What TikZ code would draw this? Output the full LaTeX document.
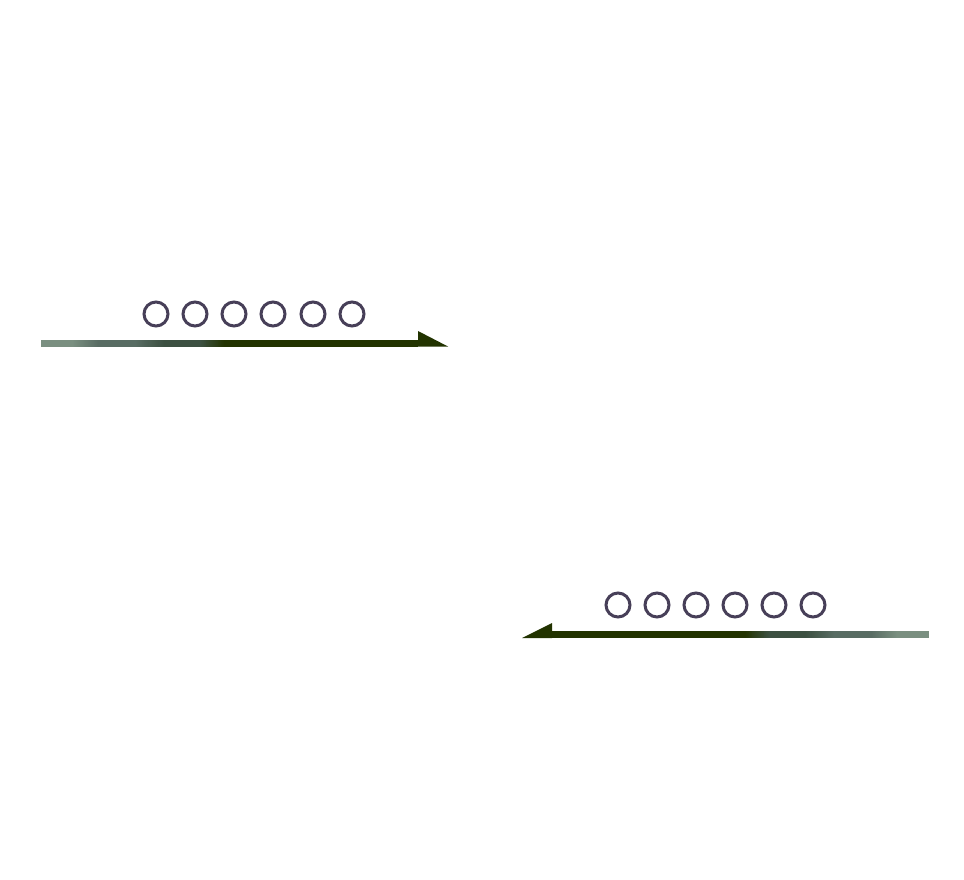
\documentclass[tikz,border=0pt]{standalone}
\definecolor{circcol}{RGB}{71,63,88}
\definecolor{darkg}{RGB}{34,51,0}
\definecolor{lightg}{RGB}{122,143,128}
\definecolor{midga}{RGB}{88,108,99}
\definecolor{midgb}{RGB}{60,80,65}
\begin{document}
\begin{tikzpicture}[x=1pt,y=-1pt,
  dot/.style={circle,draw=circcol,line width=3pt,minimum size=24pt,inner sep=0pt},
  shaft/.style={fill=darkg}]
\useasboundingbox[fill=white] (0,0) rectangle (964,880);
% top arrow (pointing right)
\coordinate (t0) at (41,339.5);
\coordinate (tb) at (418,346.5);
\coordinate (tbar) at (418,331);
\coordinate (ttip) at (448,346.5);
\fill[lightg] (t0) rectangle (73,346.5);
\fill[midga] (99,339.5) rectangle (136,346.5);
\fill[midgb] (164,339.5) rectangle (201,346.5);
\fill[shaft] (224,339.5) rectangle (tb);
\foreach \s in {0,...,26}{
  \pgfmathsetmacro\p{100*\s/26}
  \fill[midga!\p!lightg] (72+\s,339.5) rectangle (73.2+\s,346.5);
  \fill[midgb!\p!midga] (135+\s*29/26,339.5) rectangle (136.3+\s*29/26,346.5);
  \fill[darkg!\p!midgb] (200+\s*24/26,339.5) rectangle (201.2+\s*24/26,346.5);
}
\fill[shaft] (tbar) -- (ttip) -- (tb) -- cycle;
\foreach \i/\x in {1/156,2/195,3/234,4/273,5/313,6/352}
  \node[dot] (a\i) at (\x,314) {};
% bottom arrow (pointing left)
\coordinate (b0) at (929,638);
\coordinate (bb) at (552,631);
\coordinate (bbar) at (552,623);
\coordinate (btip) at (522,638);
\fill[lightg] (b0) rectangle (897,631);
\fill[midga] (834,631) rectangle (871,638);
\fill[midgb] (768,631) rectangle (806,638);
\fill[shaft] (746,638) rectangle (bb);
\foreach \s in {0,...,26}{
  \pgfmathsetmacro\p{100*\s/26}
  \fill[midga!\p!lightg] (898-\s,631) rectangle (896.8-\s,638);
  \fill[midgb!\p!midga] (835-\s*29/26,631) rectangle (833.7-\s*29/26,638);
  \fill[darkg!\p!midgb] (770-\s*24/26,631) rectangle (768.8-\s*24/26,638);
}
\fill[shaft] (bbar) -- (btip) -- (bb |- btip) -- cycle;
\foreach \i/\x in {1/618,2/657,3/696,4/735,5/774,6/813}
  \node[dot] (b\i) at (\x,605) {};
\end{tikzpicture}
\end{document}
